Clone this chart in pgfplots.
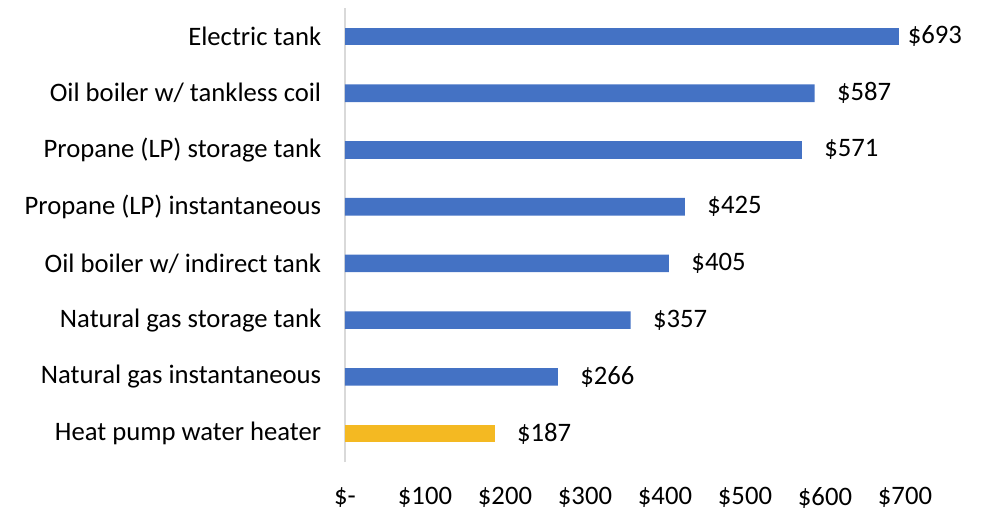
\documentclass[border=0pt]{standalone}
\usepackage{pgfplots}
\pgfplotsset{compat=1.18}
\usepackage{fontspec}
\setmainfont{Carlito}
\definecolor{barblue}{HTML}{4472C4}
\definecolor{bargold}{HTML}{F4B922}
\definecolor{axgray}{HTML}{D9D9D9}
\begin{document}
\fontsize{20}{24}\selectfont
\begin{tikzpicture}
\begin{axis}[
  at={(0pt,0pt)}, anchor=south west,
  scale only axis,
  width=480pt, height=340.5pt,
  xbar, bar width=13.3pt, bar shift=0pt,
  xmin=0, xmax=800,
  ymin=-0.5, ymax=7.5,
  axis lines*=left,
  x axis line style={draw=none},
  y axis line style={draw=axgray, line width=1.1pt, -},
  major tick length=0pt,
  xtick={0,100,...,700},
  xticklabels={\$-,\$100,\$200,\$300,\$400,\$500,\$600,\$700},
  ytick={0,...,7},
  yticklabels={Heat pump water heater, Natural gas instantaneous, Natural gas storage tank, Oil boiler w/ indirect tank, Propane (LP) instantaneous, Propane (LP) storage tank, Oil boiler w/ tankless coil, Electric tank},
  ticklabel style={font=\fontsize{20}{24}\selectfont, text=black},
  xticklabel style={yshift=-12pt},
  yticklabel style={xshift=-11pt},
  point meta=explicit symbolic,
  nodes near coords,
  nodes near coords align={horizontal},
  every node near coord/.append style={font=\fontsize{20}{24}\selectfont, text=black, anchor=west},
]
\addplot[fill=barblue, draw=none, every node near coord/.append style={xshift=10pt}] coordinates {
  (266,1) [\$266]
  (357,2) [\$357]
  (405,3) [\$405]
  (425,4) [\$425]
  (571,5) [\$571]
  (587,6) [\$587]
};
\addplot[fill=barblue, draw=none, every node near coord/.append style={xshift=-0.5pt}] coordinates {
  (693,7) [\$693]
};
\addplot[fill=bargold, draw=none, every node near coord/.append style={xshift=10pt}] coordinates {
  (187,0) [\$187]
};
\end{axis}
\pgfresetboundingbox
\path[use as bounding box] (-258.75pt,-36.75pt) rectangle (481.5pt,346.5pt);
\end{tikzpicture}
\end{document}
